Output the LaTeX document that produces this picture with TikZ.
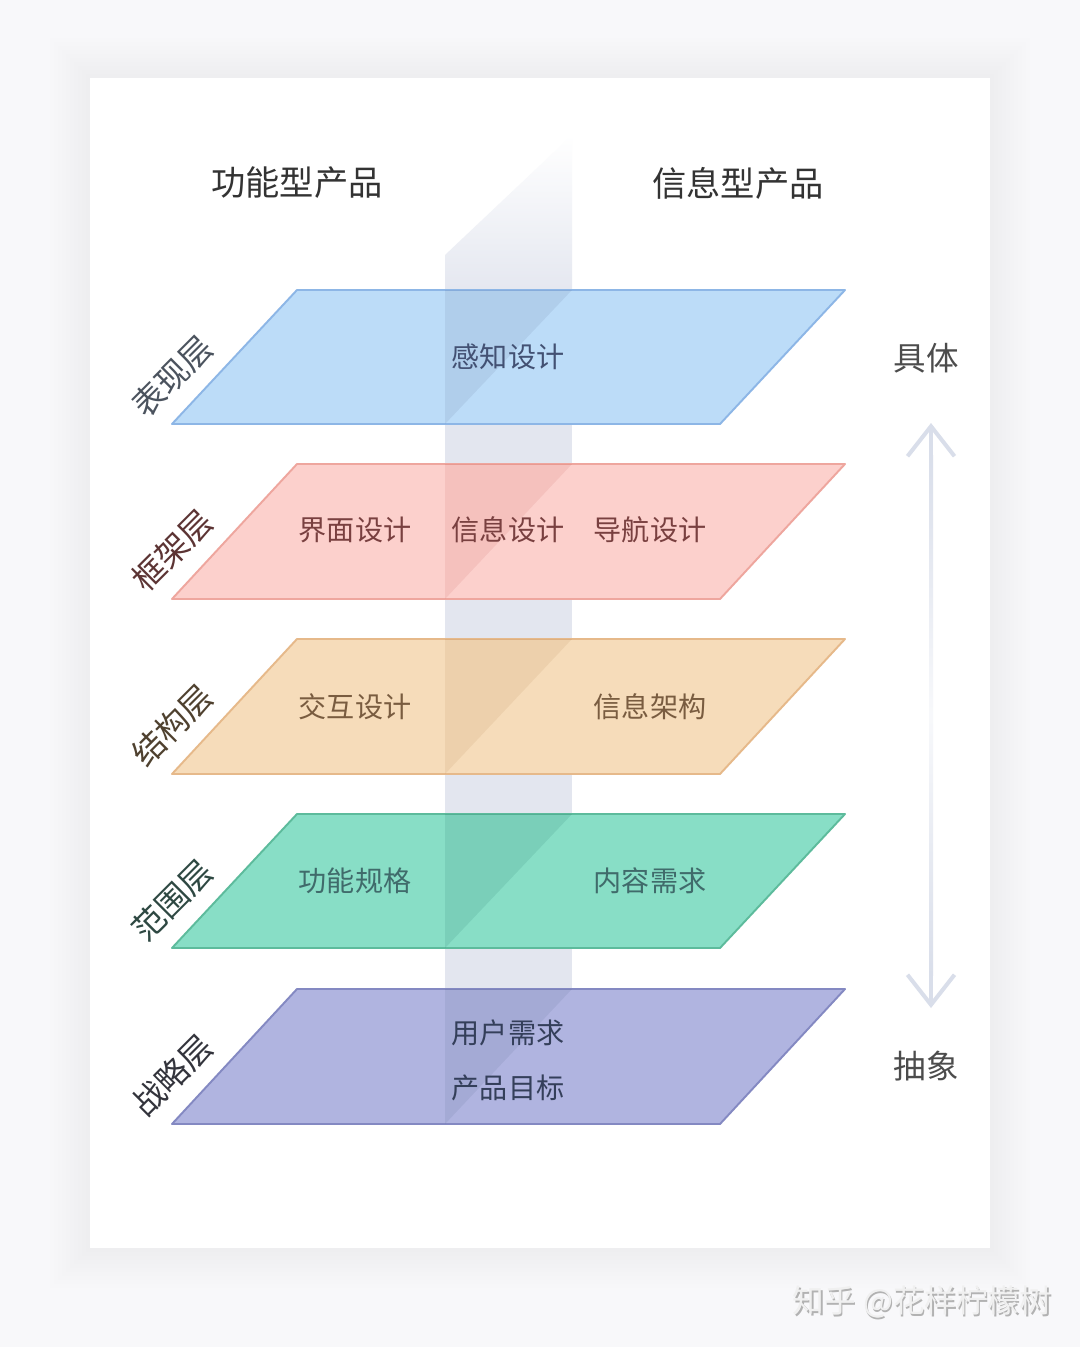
\documentclass[tikz,border=0pt]{standalone}
\usepackage{fontspec}
\newfontfamily\cjk{Noto Sans CJK SC}
\usepackage{xcolor}
\usepackage{tikz}
\usetikzlibrary{arrows.meta}

\definecolor{bluef}{HTML}{BCDCF8}
\definecolor{blued}{HTML}{8DB6E6}
\definecolor{pinkf}{HTML}{FCD0CC}
\definecolor{pinkd}{HTML}{EEA69E}
\definecolor{orangef}{HTML}{F6DCBA}
\definecolor{oranged}{HTML}{E6B98A}
\definecolor{greenf}{HTML}{88DEC6}
\definecolor{greend}{HTML}{5DBB9C}
\definecolor{purplef}{HTML}{B0B4E0}
\definecolor{purpled}{HTML}{8489C2}
\definecolor{bandc}{HTML}{E3E6EF}
\definecolor{arrc}{HTML}{D9DEEA}
\definecolor{slatec}{HTML}{4A5A80}
\definecolor{pagec}{HTML}{F8F8FA}
\definecolor{surfc}{HTML}{4B535E}
\definecolor{skelc}{HTML}{5C3434}
\definecolor{structc}{HTML}{4F412F}
\definecolor{scopec}{HTML}{2E4842}
\definecolor{stratc}{HTML}{33343C}

\tikzset{
    layer/.style 2 args={fill=#1, draw=#2, line width=1.1pt, line join=round},
    front/.style={fill=slatec, fill opacity=0.13, draw=none},
    head/.style={font=\cjk\fontsize{19.5}{22}\selectfont, text=black!80},
    tag/.style={font=\cjk\fontsize{16}{18}\selectfont},
    side/.style={rotate=45, inner sep=1pt, font=\cjk\fontsize{18.5}{20}\selectfont},
    span/.style={font=\cjk\fontsize{18.5}{20}\selectfont, text=black!70},
    wmark/.style={font=\cjk\fontsize{18}{20}\selectfont}}

\begin{document}
\begin{tikzpicture}[x=0.2mm,y=-0.2mm]
\useasboundingbox (0,0) rectangle (1080,1347);

% page and card
\fill[pagec] (0,0) rectangle (1080,1347);
\foreach \i in {4,8,...,40}
  \fill[black, opacity=0.004] (90-\i,78-\i) rectangle (990+\i,1248+\i);
\fill[white] (90,78) rectangle (990,1248);

% vertical plane
\shade[top color=white, bottom color=bandc] (445,255) -- (572,135) -- (572,300) -- (445,300) -- cycle;
\fill[bandc] (445,299) rectangle (572,1124);

% headers
\node[head] (func) at (297,183) {功能型产品};
\node[head] (info) at (738,183) {信息型产品};

% surface
\draw[layer={bluef}{blued}] (172,424) -- (297,290) -- (845,290) -- (720,424) -- cycle;
\fill[front, fill opacity=0.1] (445,290) -- (572,290) -- (445,424) -- cycle;
\node[side, text=surfc] (surf) at (172,376) {表现层};
\node[tag, text=slatec!90!black] (sense) at (508,357) {感知设计};

% skeleton
\draw[layer={pinkf}{pinkd}] (172,599) -- (297,464) -- (845,464) -- (720,599) -- cycle;
\fill[front, fill=red!60!black, fill opacity=0.07] (445,464) -- (572,464) -- (445,599) -- cycle;
\node[side, text=skelc] (skel) at (172,550) {框架层};
\node[tag, text=red!30!black!75] (iface) at (355,530) {界面设计};
\node[tag, text=red!30!black!75] (idesign) at (508,530) {信息设计};
\node[tag, text=red!30!black!75] (nav) at (650,530) {导航设计};

% structure
\draw[layer={orangef}{oranged}] (172,774) -- (297,639) -- (845,639) -- (720,774) -- cycle;
\fill[front, fill=orange!50!black, fill opacity=0.07] (445,639) -- (572,639) -- (445,774) -- cycle;
\node[side, text=structc] (struct) at (172,725) {结构层};
\node[tag, text=orange!30!black!75] (inter) at (355,707) {交互设计};
\node[tag, text=orange!30!black!75] (arch) at (650,707) {信息架构};

% scope
\draw[layer={greenf}{greend}] (172,948) -- (297,814) -- (845,814) -- (720,948) -- cycle;
\fill[front, fill=teal!60!black, fill opacity=0.1] (445,814) -- (572,814) -- (445,948) -- cycle;
\node[side, text=scopec] (scope) at (172,900) {范围层};
\node[tag, text=teal!45!black!75] (spec) at (355,881) {功能规格};
\node[tag, text=teal!45!black!75] (content) at (650,881) {内容需求};

% strategy
\draw[layer={purplef}{purpled}] (172,1124) -- (297,989) -- (845,989) -- (720,1124) -- cycle;
\fill[front, fill opacity=0.11] (445,989) -- (572,989) -- (445,1124) -- cycle;
\node[side, text=stratc] (strat) at (172,1075) {战略层};
\node[tag, text=slatec!70!black] (need) at (508,1033) {用户需求};
\node[tag, text=slatec!70!black] (goal) at (508,1088) {产品目标};

% concrete / abstract
\node[span] (conc) at (926,358) {具体};
\node[span] (abst) at (926,1066) {抽象};
\coordinate (up) at (931,423);
\coordinate (down) at (931,1008);
\draw[arrc, line width=0.8mm, {Straight Barb[length=6mm,width=9.4mm]}-{Straight Barb[length=6mm,width=9.4mm]}] (up) -- (down);
\shade[top color=arrc, bottom color=arrc, middle color=arrc!20] (929,455) rectangle (933,975);

% watermark
\node[wmark, text=black!30] (zhihus) at (923.5,1303.5) {知乎 @花样柠檬树};
\node[wmark, text=black!6] (zhihu) at (922,1302) {知乎 @花样柠檬树};
\end{tikzpicture}
\end{document}
